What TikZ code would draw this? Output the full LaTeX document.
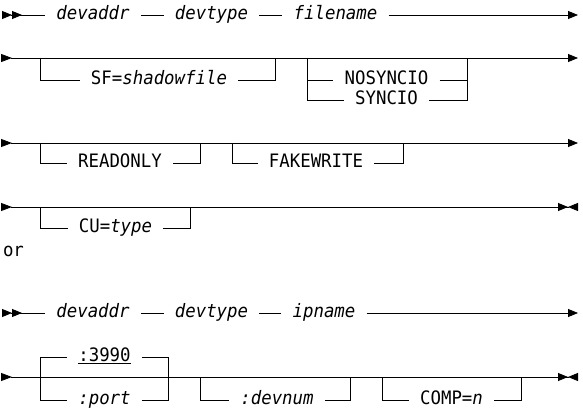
\documentclass[tikz,border=0pt]{standalone}
\usepackage{fontspec}
\setmonofont{DejaVu Sans Mono}[FakeStretch=0.94]
\usetikzlibrary{arrows.meta}

\begin{document}
\begin{tikzpicture}[
    x=1pt, y=-1pt,
    rail/.style={line width=0.8pt, color=black},
    item/.style={font=\ttfamily\fontsize{18.5}{21}\selectfont, inner xsep=11pt, inner ysep=0pt, text height=13.4pt, text depth=3.9pt},
    railin2/.style={{Triangle[reversed,length=10pt,width=8pt]Triangle[reversed,length=10pt,width=8pt]}-},
    railout/.style={-{Triangle[length=10pt,width=8pt]}},
    railgo/.style={{Triangle[reversed,length=11pt,width=8pt]}-{Triangle[length=10pt,width=8pt]}},
    railend/.style={{Triangle[reversed,length=11pt,width=8pt]}-{Triangle[length=10pt,width=8pt]Triangle[reversed,length=10pt,width=8pt]}}
]
    \useasboundingbox (0,0) rectangle (583,411);

    % first form
    \coordinate (r1a) at (2,15);
    \coordinate (r1b) at (578,15);
    \node[item] (addr1) at (93,15) {\itshape devaddr};
    \node[item] (type1) at (211.5,15) {\itshape devtype};
    \node[item] (file) at (335.5,15) {\itshape filename};
    \draw[rail, railin2] (r1a) -- (addr1);
    \draw[rail] (addr1) -- (type1);
    \draw[rail] (type1) -- (file);
    \draw[rail, railout] (file) -- (r1b);

    \coordinate (r2a) at (1,58);
    \coordinate (r2b) at (578,58);
    \coordinate (sfL) at (40,58);
    \coordinate (sfR) at (275,58);
    \coordinate (nsL) at (307,58);
    \coordinate (nsR) at (467,58);
    \node[item] (sf) at (159,80) {SF=\itshape shadowfile};
    \node[item] (nosync) at (386.5,80) {NOSYNCIO};
    \node[item] (sync) at (386.5,100) {SYNCIO};
    \draw[rail, railgo] (r2a) -- (r2b);
    \draw[rail] (sfL) |- (sf.west);
    \draw[rail] (sf.east) -| (sfR);
    \draw[rail] (nsL) |- (nosync.west);
    \draw[rail] (nsL) |- (sync.west);
    \draw[rail] (nosync.east) -| (nsR);
    \draw[rail] (sync.east) -| (nsR);

    \coordinate (r3a) at (1,143);
    \coordinate (r3b) at (578,143);
    \coordinate (roL) at (40,143);
    \coordinate (roR) at (200,143);
    \coordinate (fwL) at (232,143);
    \coordinate (fwR) at (403,143);
    \node[item] (ronly) at (120,163) {READONLY};
    \node[item] (fwrite) at (316,163) {FAKEWRITE};
    \draw[rail, railgo] (r3a) -- (r3b);
    \draw[rail] (roL) |- (ronly.west);
    \draw[rail] (ronly.east) -| (roR);
    \draw[rail] (fwL) |- (fwrite.west);
    \draw[rail] (fwrite.east) -| (fwR);

    \coordinate (r4a) at (1,207);
    \coordinate (r4b) at (578,207);
    \coordinate (cuL) at (40,207);
    \coordinate (cuR) at (190,207);
    \node[item] (cu) at (115.5,228) {CU=\itshape type};
    \draw[rail, railend] (r4a) -- (r4b);
    \draw[rail] (cuL) |- (cu.west);
    \draw[rail] (cu.east) -| (cuR);

    \node[item, inner xsep=0pt] (or) at (13.5,252) {or};

    % second form
    \coordinate (r5a) at (2,313);
    \coordinate (r5b) at (578,313);
    \node[item] (addr2) at (93,313) {\itshape devaddr};
    \node[item] (type2) at (211.5,313) {\itshape devtype};
    \node[item] (ip) at (324,313) {\itshape ipname};
    \draw[rail, railin2] (r5a) -- (addr2);
    \draw[rail] (addr2) -- (type2);
    \draw[rail] (type2) -- (ip);
    \draw[rail, railout] (ip) -- (r5b);

    \coordinate (r6a) at (1,377);
    \coordinate (r6b) at (578,377);
    \coordinate (ptL) at (40,377);
    \coordinate (ptR) at (168,377);
    \coordinate (dnL) at (200,377);
    \coordinate (dnR) at (350,377);
    \coordinate (cpL) at (382,377);
    \coordinate (cpR) at (521,377);
    \node[item] (dflt) at (104.5,357) {\underline{:3990}};
    \node[item] (port) at (104.5,400) {\itshape :port};
    \node[item] (devnum) at (277,400) {\itshape :devnum};
    \node[item] (comp) at (451.5,400) {COMP=\itshape n};
    \draw[rail, railend] (r6a) -- (r6b);
    \draw[rail] (ptL) |- (dflt.west);
    \draw[rail] (ptL) |- (port.west);
    \draw[rail] (dflt.east) -| (ptR);
    \draw[rail] (port.east) -| (ptR);
    \draw[rail] (dnL) |- (devnum.west);
    \draw[rail] (devnum.east) -| (dnR);
    \draw[rail] (cpL) |- (comp.west);
    \draw[rail] (comp.east) -| (cpR);
\end{tikzpicture}
\end{document}
